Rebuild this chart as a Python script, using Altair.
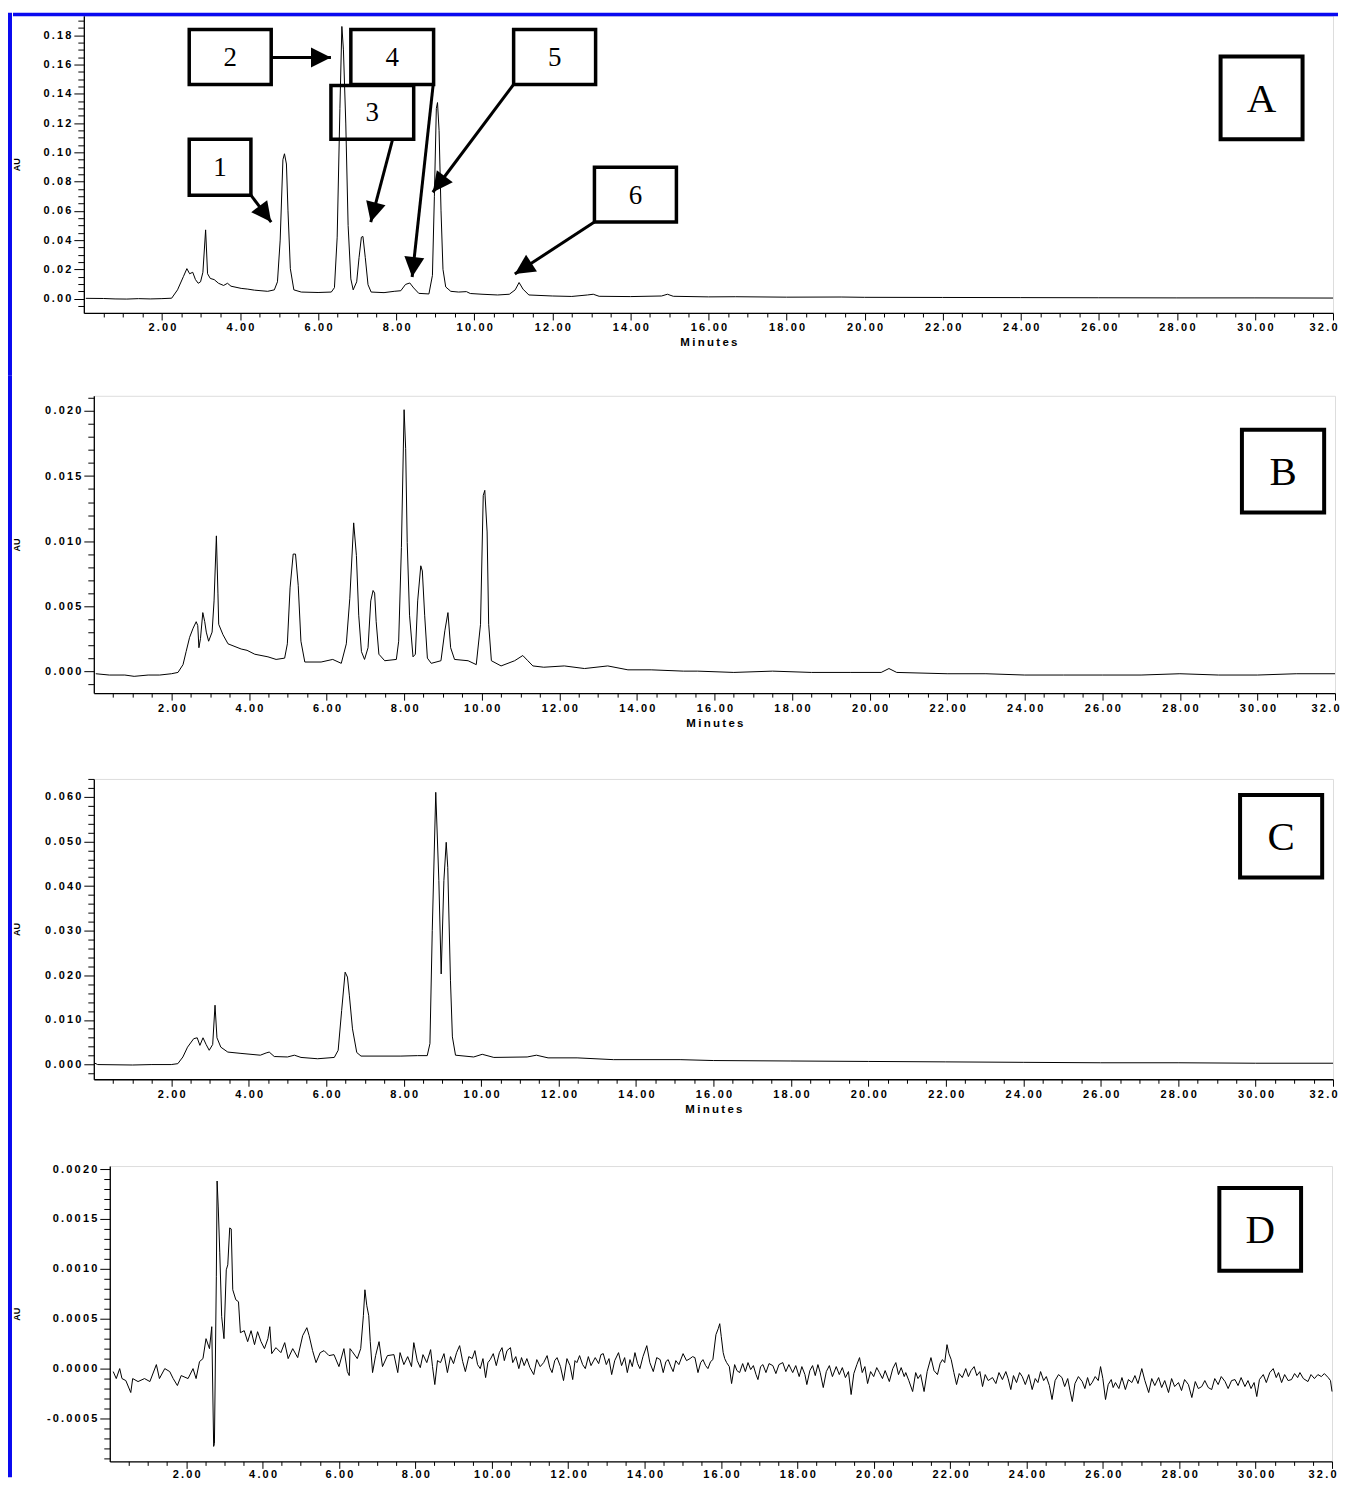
import math
import altair as alt
import pandas as pd

# ---------------- trace data (minutes, AU) ----------------
A_TRACE = [
    (0.05, 0.0002), (0.5, 0.0001), (0.8, -0.0002), (1.1, -0.0003), (1.4, 0.0), (1.7, -0.0002),
    (2.0, 0.0), (2.25, 0.0003), (2.4, 0.006), (2.55, 0.015), (2.64, 0.0205), (2.71, 0.017),
    (2.79, 0.018), (2.86, 0.013), (2.93, 0.0105), (2.99, 0.0115), (3.05, 0.018), (3.12, 0.047),
    (3.17, 0.017), (3.24, 0.0138), (3.34, 0.013), (3.45, 0.0105), (3.58, 0.009), (3.68, 0.0105),
    (3.77, 0.0085), (4.03, 0.007), (4.2, 0.0065), (4.37, 0.0058), (4.71, 0.005), (4.88, 0.006),
    (4.96, 0.0115), (5.03, 0.04), (5.1, 0.095), (5.14, 0.099), (5.19, 0.092), (5.23, 0.06),
    (5.29, 0.0205), (5.38, 0.006), (5.57, 0.0045), (6.0, 0.0042), (6.34, 0.0045), (6.42, 0.0075),
    (6.49, 0.042), (6.56, 0.13), (6.61, 0.186), (6.65, 0.17), (6.71, 0.12), (6.77, 0.05),
    (6.84, 0.0135), (6.9, 0.006), (6.99, 0.0115), (7.05, 0.028), (7.11, 0.042), (7.15, 0.0425),
    (7.21, 0.028), (7.28, 0.0095), (7.36, 0.0045), (7.69, 0.0041), (7.95, 0.005), (8.12, 0.0054),
    (8.24, 0.0097), (8.35, 0.0107), (8.45, 0.0073), (8.58, 0.0036), (8.84, 0.0032), (8.93, 0.0159),
    (8.98, 0.07), (9.03, 0.13), (9.06, 0.134), (9.1, 0.115), (9.15, 0.06), (9.2, 0.02),
    (9.27, 0.008), (9.4, 0.005), (9.6, 0.0045), (9.8, 0.0048), (9.9, 0.0035), (10.2, 0.003),
    (10.6, 0.0025), (10.9, 0.003), (11.05, 0.006), (11.15, 0.011), (11.25, 0.0065), (11.4, 0.0025),
    (12.0, 0.0018), (12.5, 0.0015), (12.9, 0.0025), (13.05, 0.003), (13.2, 0.0016), (14.0, 0.0014),
    (14.8, 0.0018), (14.95, 0.003), (15.1, 0.0016), (16.0, 0.0012), (16.7, 0.0013), (18.0, 0.001),
    (19.4, 0.0011), (20.0, 0.0009), (22.0, 0.0008), (24.0, 0.0007), (26.0, 0.0006), (28.0, 0.0005),
    (30.0, 0.0005), (32.0, 0.0004),
]

B_TRACE = [
    (0.05, -0.0002), (0.4, -0.0003), (0.8, -0.0003), (1.04, -0.0004), (1.4, -0.0003), (1.7, -0.0003),
    (2.0, -0.0002), (2.17, -0.0001), (2.3, 0.0005), (2.38, 0.0015), (2.47, 0.0026), (2.56, 0.0033),
    (2.64, 0.0038), (2.68, 0.0035), (2.71, 0.0018), (2.75, 0.0025), (2.81, 0.0045), (2.86, 0.0038),
    (2.9, 0.0030), (2.96, 0.0023), (3.05, 0.003), (3.1, 0.0054), (3.16, 0.0104), (3.2, 0.006),
    (3.22, 0.0036), (3.33, 0.0028), (3.46, 0.0021), (3.8, 0.0017), (3.95, 0.0016), (4.15, 0.0013),
    (4.49, 0.0011), (4.7, 0.0009), (4.92, 0.001), (4.99, 0.0021), (5.06, 0.0064), (5.14, 0.009),
    (5.2, 0.009), (5.27, 0.0066), (5.34, 0.0023), (5.44, 0.0007), (5.86, 0.0007), (6.16, 0.0009),
    (6.38, 0.0006), (6.51, 0.0021), (6.6, 0.0056), (6.7, 0.0114), (6.77, 0.0089), (6.83, 0.0043),
    (6.9, 0.0015), (6.98, 0.0009), (7.07, 0.0018), (7.14, 0.0054), (7.2, 0.0062), (7.24, 0.006),
    (7.28, 0.0038), (7.35, 0.0013), (7.5, 0.0008), (7.8, 0.0009), (7.86, 0.0023), (7.93, 0.0095),
    (8.0, 0.0201), (8.04, 0.0171), (8.08, 0.0099), (8.14, 0.0043), (8.23, 0.0011), (8.29, 0.0013),
    (8.35, 0.0054), (8.43, 0.0081), (8.47, 0.0077), (8.53, 0.0043), (8.6, 0.001), (8.7, 0.0006),
    (8.95, 0.0008), (9.05, 0.0031), (9.13, 0.0045), (9.2, 0.0018), (9.3, 0.0009), (9.65, 0.0008),
    (9.86, 0.0005), (9.97, 0.0036), (10.04, 0.0135), (10.08, 0.0139), (10.14, 0.0107), (10.18, 0.0036),
    (10.25, 0.0008), (10.5, 0.0004), (10.85, 0.0008), (11.06, 0.0012), (11.19, 0.0008), (11.32, 0.0004),
    (11.6, 0.0003), (12.13, 0.0004), (12.65, 0.0002), (13.25, 0.0004), (13.77, 0.0001), (14.37, 0.0001),
    (15.2, 0.0), (15.57, 0.0), (16.5, -0.0001), (17.5, 0.0), (18.5, -0.0001), (19.5, -0.0001),
    (20.3, -0.0001), (20.5, 0.0002), (20.7, -0.0001), (22.0, -0.0002), (23.0, -0.0002), (24.0, -0.0003),
    (25.0, -0.0003), (26.0, -0.0003), (27.0, -0.0003), (28.0, -0.0002), (29.0, -0.0003), (30.0, -0.0003),
    (31.0, -0.0002), (32.0, -0.0002),
]

C_TRACE = [
    (0.03, 0.0003), (0.1, 0.0), (1.0, -0.0001), (1.5, 0.0), (2.0, 0.0), (2.17, 0.0002),
    (2.3, 0.0017), (2.42, 0.0039), (2.58, 0.0058), (2.67, 0.006), (2.74, 0.0043), (2.82, 0.006),
    (2.9, 0.0045), (2.98, 0.0032), (3.07, 0.0045), (3.13, 0.0133), (3.18, 0.006), (3.28, 0.0039),
    (3.46, 0.0028), (3.8, 0.0025), (4.3, 0.0021), (4.45, 0.0026), (4.53, 0.0028), (4.66, 0.0018),
    (5.0, 0.0017), (5.18, 0.0021), (5.35, 0.0016), (5.78, 0.0013), (6.21, 0.0016), (6.31, 0.0032),
    (6.4, 0.0121), (6.49, 0.0207), (6.55, 0.0196), (6.6, 0.0154), (6.68, 0.008), (6.79, 0.0027),
    (6.9, 0.0019), (7.93, 0.0019), (8.36, 0.002), (8.61, 0.002), (8.68, 0.0047), (8.74, 0.030),
    (8.83, 0.061), (8.91, 0.0412), (8.97, 0.0203), (9.04, 0.0412), (9.1, 0.0498), (9.14, 0.0442),
    (9.21, 0.0189), (9.26, 0.0062), (9.34, 0.0021), (9.81, 0.0017), (10.03, 0.0023), (10.33, 0.0016),
    (11.19, 0.0017), (11.43, 0.0021), (11.73, 0.0015), (12.48, 0.0015), (13.42, 0.0011), (15.14, 0.0011),
    (16.0, 0.0009), (18.0, 0.0008), (20.0, 0.0007), (22.0, 0.0006), (24.0, 0.0005), (26.0, 0.0004),
    (28.0, 0.0004), (30.0, 0.0003), (32.0, 0.0003),
]

D_TRACE = [
    (0.09, -0.00003), (0.17, -0.00010), (0.26, 0.00000), (0.32, -0.00010), (0.42, -0.00012),
    (0.55, -0.00024), (0.60, -0.00010), (0.74, -0.00013), (0.91, -0.00010), (1.05, -0.00013),
    (1.22, 0.00004), (1.30, -0.00010), (1.44, 0.00000), (1.57, -0.00003), (1.66, -0.00010),
    (1.77, -0.00017), (1.87, -0.00007), (2.05, -0.00010), (2.18, 0.00000), (2.26, -0.00010),
    (2.35, 0.00007), (2.44, 0.00010), (2.52, 0.00030), (2.61, 0.00020), (2.67, 0.00042),
    (2.72, -0.00078), (2.74, -0.00075), (2.79, 0.00092), (2.81, 0.00188), (2.84, 0.00162),
    (2.88, 0.00116), (2.93, 0.00052), (2.99, 0.00030), (3.05, 0.00099), (3.09, 0.00104),
    (3.14, 0.00141), (3.18, 0.00140), (3.22, 0.00079), (3.30, 0.00069), (3.37, 0.00067),
    (3.42, 0.00036), (3.52, 0.00038), (3.61, 0.00027), (3.70, 0.00038), (3.79, 0.00024),
    (3.87, 0.00037), (3.96, 0.00027), (4.05, 0.00020), (4.14, 0.00030), (4.19, 0.00042),
    (4.24, 0.00015), (4.35, 0.00021), (4.48, 0.00016), (4.58, 0.00026), (4.67, 0.00010),
    (4.79, 0.00020), (4.92, 0.00011), (5.05, 0.00033), (5.16, 0.00041), (5.22, 0.00033),
    (5.31, 0.00018), (5.40, 0.00006), (5.51, 0.00016), (5.61, 0.00018), (5.74, 0.00013),
    (5.87, 0.00014), (6.00, 0.00002), (6.13, 0.00020), (6.22, -0.00003), (6.27, -0.00007),
    (6.29, 0.00020), (6.35, 0.00017), (6.48, 0.00010), (6.57, 0.00020), (6.64, 0.00053),
    (6.68, 0.00079), (6.73, 0.00063), (6.78, 0.00053), (6.82, 0.00027), (6.88, -0.00004),
    (6.96, 0.00013), (7.05, 0.00027), (7.14, 0.00002), (7.27, 0.00013), (7.44, 0.00014),
    (7.54, -0.00004),
    (7.6, 0.00016), (7.7, 0.00004), (7.8, 0.00012), (7.9, 0.00002), (7.96, 0.00026), (8.05, 0.00008),
    (8.13, 0.00001), (8.2, 0.00014), (8.3, 0.00006), (8.4, 0.00019), (8.45, 0.00002), (8.51, -0.00016),
    (8.58, 0.00008), (8.66, 0.00006), (8.75, 0.00015), (8.84, -0.00004), (8.92, 0.00012), (9.0, 0.00005),
    (9.08, 0.00016), (9.16, 0.00023), (9.24, 0.00007), (9.31, -0.00003), (9.4, 0.00012), (9.49, 0.00010),
    (9.56, 0.00018), (9.63, 0.00004), (9.70, 0.00000), (9.77, 0.00010), (9.84, -0.00009), (9.9, 0.00006),
    (9.96, 0.00009), (10.04, 0.00015), (10.12, 0.00003), (10.2, 0.00016), (10.27, 0.00021), (10.33, 0.00008),
    (10.4, 0.00018), (10.49, 0.00021), (10.55, 0.00006), (10.63, 0.00012), (10.71, 0.00000), (10.78, 0.00011),
    (10.85, 0.00003), (10.92, 0.00010), (11.0, 0.00001), (11.10, -0.00006), (11.18, 0.00009), (11.27, 0.00002),
    (11.36, 0.00006), (11.45, 0.00013), (11.52, 0.00001), (11.58, -0.00004), (11.65, 0.00008), (11.71, 0.00011),
    (11.8, 0.00002), (11.88, -0.00012), (11.97, 0.00010), (12.05, 0.00003), (12.12, -0.00011), (12.18, 0.00008),
    (12.23, 0.00006), (12.3, 0.00013), (12.38, 0.00004), (12.45, 0.00000), (12.53, 0.00012), (12.6, 0.00003),
    (12.71, 0.00011), (12.8, 0.00005), (12.86, 0.00014), (12.92, 0.00015), (13.0, 0.00004), (13.07, 0.00010),
    (13.14, -0.00006), (13.22, 0.00008), (13.32, 0.00016), (13.4, 0.00003), (13.48, 0.00011), (13.55, -0.00004),
    (13.62, 0.00009), (13.68, 0.00002), (13.75, 0.00016), (13.82, 0.00005), (13.88, 0.00000), (13.96, 0.00012),
    (14.06, 0.00023), (14.14, 0.00006), (14.23, -0.00003), (14.32, 0.00011), (14.41, 0.00009), (14.49, -0.00004),
    (14.56, 0.00007), (14.62, 0.00009), (14.69, 0.00002), (14.75, -0.00003), (14.82, 0.00008), (14.9, 0.00004),
    (15.01, 0.00015), (15.1, 0.00008), (15.19, 0.00010), (15.26, 0.00012), (15.32, 0.00011), (15.40, -0.00004),
    (15.47, 0.00006), (15.53, 0.00009), (15.6, 0.00003), (15.66, 0.00000), (15.73, 0.00007), (15.79, 0.00009),
    (15.87, 0.00034), (15.93, 0.00040), (15.97, 0.00045), (16.01, 0.00032), (16.06, 0.00016), (16.1, 0.00010),
    (16.15, 0.00006), (16.22, 0.00002), (16.28, -0.00015), (16.36, 0.00004), (16.42, -0.00002), (16.49, -0.00004),
    (16.57, 0.00005), (16.64, -0.00003), (16.71, 0.00006), (16.78, -0.00001), (16.85, 0.00003), (16.92, -0.00006),
    (16.97, -0.00011), (17.04, 0.00002), (17.10, 0.00004), (17.18, -0.00004), (17.26, 0.00005), (17.36, 0.00003),
    (17.44, -0.00005), (17.52, 0.00004), (17.62, 0.00006), (17.7, -0.00003), (17.78, 0.00004), (17.88, -0.00004),
    (17.96, 0.00003), (18.05, -0.00008), (18.12, 0.00002), (18.2, -0.00006), (18.25, -0.00016), (18.33, -0.00002),
    (18.4, 0.00003), (18.47, -0.00007), (18.54, 0.00004), (18.6, -0.00004), (18.68, -0.00019), (18.76, -0.00003),
    (18.84, 0.00003), (18.92, -0.00008), (19.02, 0.00002), (19.1, -0.00006), (19.18, 0.00001), (19.26, -0.00009),
    (19.34, -0.00003), (19.41, -0.00026), (19.48, -0.00005), (19.56, 0.00004), (19.63, 0.00011), (19.7, -0.00004),
    (19.77, 0.00002), (19.84, -0.00015), (19.92, -0.00003), (20.0, -0.00008), (20.08, 0.00001), (20.15, -0.00004),
    (20.23, -0.00010), (20.3, -0.00002), (20.41, -0.00013), (20.5, 0.00000), (20.58, 0.00006), (20.65, -0.00006),
    (20.72, 0.00001), (20.8, -0.00008), (20.84, -0.00004), (20.92, -0.00012), (21.02, -0.00023), (21.1, -0.00004),
    (21.16, -0.00010), (21.23, -0.00006), (21.32, -0.00023), (21.4, -0.00003), (21.50, 0.00011), (21.58, -0.00002),
    (21.67, -0.00006), (21.74, 0.00005), (21.80, 0.00009), (21.86, 0.00006), (21.92, 0.00024), (21.97, 0.00015),
    (22.03, 0.00009), (22.1, -0.00004), (22.17, -0.00016), (22.24, -0.00005), (22.32, -0.00009), (22.41, 0.00000),
    (22.48, -0.00008), (22.55, -0.00002), (22.63, 0.00002), (22.7, -0.00007), (22.78, -0.00003), (22.85, -0.00018),
    (22.92, -0.00006), (23.0, -0.00012), (23.11, -0.00009), (23.2, -0.00015), (23.28, -0.00004), (23.37, -0.00011),
    (23.46, -0.00003), (23.52, -0.00010), (23.59, -0.00021), (23.66, -0.00007), (23.74, -0.00014), (23.82, -0.00004),
    (23.89, -0.00008), (23.97, -0.00016), (24.06, -0.00006), (24.15, -0.00021), (24.23, -0.00010), (24.3, -0.00014),
    (24.37, -0.00003), (24.45, -0.00012), (24.52, -0.00008), (24.6, -0.00017), (24.67, -0.00031), (24.75, -0.00012),
    (24.84, -0.00006), (24.93, -0.00009), (25.0, -0.00018), (25.08, -0.00010), (25.14, -0.00022), (25.20, -0.00033),
    (25.27, -0.00015), (25.36, -0.00008), (25.46, -0.00013), (25.53, -0.00020), (25.6, -0.00009), (25.66, -0.00017),
    (25.72, -0.00014), (25.8, -0.00008), (25.88, -0.00012), (25.94, 0.00002), (26.0, -0.00010), (26.07, -0.00031),
    (26.14, -0.00016), (26.22, -0.00011), (26.27, -0.00019), (26.33, -0.00014), (26.42, -0.00020), (26.5, -0.00009),
    (26.59, -0.00021), (26.67, -0.00011), (26.76, -0.00014), (26.84, -0.00007), (26.92, -0.00015), (27.02, 0.00000),
    (27.1, -0.00012), (27.20, -0.00024), (27.28, -0.00010), (27.36, -0.00017), (27.46, -0.00009), (27.54, -0.00019),
    (27.62, -0.00012), (27.72, -0.00024), (27.8, -0.00010), (27.88, -0.00018), (27.98, -0.00014), (28.06, -0.00022),
    (28.14, -0.00011), (28.24, -0.00016), (28.33, -0.00029), (28.42, -0.00013), (28.5, -0.00020), (28.59, -0.00018),
    (28.67, -0.00012), (28.76, -0.00019), (28.85, -0.00021), (28.93, -0.00010), (29.02, -0.00016), (29.1, -0.00008),
    (29.20, -0.00013), (29.28, -0.00020), (29.37, -0.00012), (29.46, -0.00011), (29.54, -0.00017), (29.62, -0.00009),
    (29.72, -0.00018), (29.8, -0.00012), (29.88, -0.00020), (29.96, -0.00014), (30.03, -0.00028), (30.1, -0.00011),
    (30.2, -0.00006), (30.28, -0.00014), (30.37, -0.00004), (30.46, 0.00000), (30.54, -0.00009), (30.6, -0.00004),
    (30.68, -0.00014), (30.76, -0.00006), (30.85, -0.00012), (30.94, -0.00011), (31.02, -0.00005), (31.1, -0.00009),
    (31.16, -0.00004), (31.25, -0.00010), (31.37, -0.00013), (31.45, -0.00006), (31.54, -0.00010), (31.63, -0.00006),
    (31.72, -0.00008), (31.8, -0.00005), (31.9, -0.00009), (31.96, -0.00012), (32.0, -0.00023),
]

# ---------------- annotations ----------------
PEAK_LABELS = ["1", "2", "3", "4", "5", "6"]
PEAK_BOX_T = [(2.70, 4.28), (2.70, 4.80), (6.33, 8.45), (6.84, 8.96), (11.01, 13.11), (13.08, 15.18)]
PEAK_BOX_AU = [(0.0707, 0.1089), (0.1464, 0.1839), (0.1089, 0.1457), (0.1464, 0.1839),
               (0.1464, 0.1839), (0.0523, 0.0898)]
ARROW_FROM = [(4.28, 0.0707), (4.80, 0.1648), (7.91, 0.1089), (8.95, 0.1464), (11.01, 0.1464), (13.08, 0.0523)]
ARROW_TO = [(4.80, 0.0523), (6.33, 0.1648), (7.35, 0.0523), (8.41, 0.0148), (8.94, 0.0727), (11.04, 0.0168)]

PANEL_LETTERS = ["A", "B", "C", "D"]
LETTER_BOX_T = [(29.12, 31.22), (29.6, 31.72), (29.6, 31.72), (29.05, 31.19)]
LETTER_BOX_AU = [(0.1089, 0.1655), (0.01219, 0.01856), (0.0419, 0.0604), (0.00098, 0.00181)]

TRACES = [A_TRACE, B_TRACE, C_TRACE, D_TRACE]
Y_DOMAINS = [(-0.0098, 0.1934), (-0.00169, 0.02117), (-0.00329, 0.0640), (-0.00093, 0.00203)]
Y_LABEL_STEP = [0.02, 0.005, 0.01, 0.0005]
Y_MINOR_STEP = [0.005, 0.001, 0.002, 0.0001]
Y_FORMAT = [".2f", ".3f", ".3f", ".4f"]
X_DOMAIN = (0, 32)
X_LABEL_STEP = 2
X_MINOR_STEP = 0.5
X_TITLE = "Minutes"
Y_TITLE = "AU"

# ---------------- layout / style (page pixels) ----------------
LAYOUT = [
    dict(left=83, top=13, width=1252, height=298, seg_top=10, seg_bottom=374, xtitle=True, lpad=2),
    dict(left=93, top=394, width=1244, height=298, seg_top=374, seg_bottom=758, xtitle=True, lpad=2),
    dict(left=93, top=778, width=1242, height=301, seg_top=758, seg_bottom=1146, xtitle=True, lpad=2),
    dict(left=109, top=1166, width=1225, height=296, seg_top=1146, seg_bottom=1478, xtitle=False, lpad=0),
]
EDGE = 8          # page x of the blue frame line
EDGE_W = 4        # its thickness
RIGHT = 1340      # page x where the top frame line ends
FONT = "Liberation Sans"
SERIF = "Liberation Serif"
BLUE = "#0a0af0"
THIN = "\u2009"
ARROW_PATH = "M0,0L0.8,1.6L-0.8,1.6Z"


def spaced(expr):
    return "join(split(replace(%s, '\u2212', '-'), ''), '%s')" % (expr, THIN)


def is_major(step):
    return "abs(datum.value / %s - round(datum.value / %s)) < 0.01" % (step, step)


def ticks(lo, hi, step):
    start = math.ceil(lo / step - 1e-9)
    stop = math.floor(hi / step + 1e-9)
    return [round(k * step, 6) for k in range(start, stop + 1)]


x_values = [v for v in ticks(X_DOMAIN[0], X_DOMAIN[1], X_MINOR_STEP) if v > 0]
LAST = "datum.value > %s" % (X_DOMAIN[1] - 0.1)
x_label = "%s ? substring(format(datum.value, '.2f'), 0, 4) : format(datum.value, '.2f')" % LAST


def x_axis(i):
    kw = dict(
        values=x_values,
        labelExpr="%s ? %s : ''" % (is_major(X_LABEL_STEP), spaced(x_label)),
        tickSize={"condition": {"test": is_major(X_LABEL_STEP), "value": 7}, "value": 4},
        labelAlign={"condition": {"test": LAST, "value": "right"}, "value": "center"},
        labelOffset={"condition": {"test": LAST, "value": 4}, "value": 0},
        titleFont=FONT, titleFontSize=11.5, titleFontWeight="bold",
        titleColor="black", titlePadding=4,
        labelFont=FONT, labelFontSize=11, labelFontWeight="bold", labelColor="black",
        labelPadding=LAYOUT[i]["lpad"], labelFlush=False, labelOverlap=False, labelBound=False,
        domainColor="black", domainWidth=1.3, tickColor="black", tickWidth=1, grid=False,
    )
    kw["title"] = THIN.join(X_TITLE) if LAYOUT[i]["xtitle"] else None
    return alt.Axis(**kw)


def y_axis(i):
    lo, hi = Y_DOMAINS[i]
    step = Y_LABEL_STEP[i]
    return alt.Axis(
        values=ticks(lo, hi, Y_MINOR_STEP[i]),
        labelExpr="%s ? %s : ''" % (is_major(step), spaced("format(datum.value, '%s')" % Y_FORMAT[i])),
        tickSize={"condition": {"test": is_major(step), "value": 10}, "value": 6},
        title=Y_TITLE, titleFont=FONT, titleFontSize=9, titleFontWeight="bold",
        titleColor="black", titleX=21 - LAYOUT[i]["left"],
        labelFont=FONT, labelFontSize=11, labelFontWeight="bold", labelColor="black",
        labelPadding=3, labelOverlap=False, labelFlush=False, labelBound=False,
        domainColor="black", domainWidth=1.3, tickColor="black", tickWidth=1, grid=False,
    )


ONE = pd.DataFrame({"k": [0]})


def frame_strip(i):
    """Blue left frame segment of this row (its own narrow view)."""
    lay = LAYOUT[i]
    T = lay["top"]
    return alt.Chart(ONE).mark_rect(color=BLUE).encode(
        x=alt.value(0), x2=alt.value(EDGE_W),
        y=alt.value(lay["seg_top"] - T), y2=alt.value(lay["seg_bottom"] - T)
    ).properties(width=EDGE_W, height=lay["height"],
                 view=alt.ViewBackground(strokeWidth=0, strokeOpacity=0))


def panel(i):
    lay = LAYOUT[i]
    xs = alt.Scale(domain=list(X_DOMAIN), nice=False, zero=False)
    ys = alt.Scale(domain=list(Y_DOMAINS[i]), nice=False, zero=False)
    xa = x_axis(i)
    ya = y_axis(i)

    def X(f):
        return alt.X(f, type="quantitative", scale=xs, axis=xa)

    def Y(f):
        return alt.Y(f, type="quantitative", scale=ys, axis=ya)

    trace = pd.DataFrame(TRACES[i], columns=["t", "v"])
    layers = [
        alt.Chart(trace).mark_line(color="black", strokeWidth=1).encode(x=X("t"), y=Y("v"))
    ]

    L, T = lay["left"], lay["top"]
    inner = EDGE + EDGE_W
    if i == 0:
        # top blue frame line (starts where the left strip ends)
        layers.append(
            alt.Chart(ONE).mark_rect(color=BLUE).encode(
                x=alt.value(inner - L), x2=alt.value(RIGHT - L),
                y=alt.value(10 - T), y2=alt.value(13.5 - T))
        )
    else:
        # invisible anchor that fixes the panel's left edge next to the strip
        layers.append(
            alt.Chart(ONE).mark_rect(color="white").encode(
                x=alt.value(inner - L), x2=alt.value(inner + 1 - L),
                y=alt.value(0), y2=alt.value(1))
        )

    (t1, t2), (v1, v2) = LETTER_BOX_T[i], LETTER_BOX_AU[i]
    box = pd.DataFrame({"t1": [t1], "t2": [t2], "v1": [v1], "v2": [v2],
                        "tc": [(t1 + t2) / 2], "vc": [(v1 + v2) / 2],
                        "label": [PANEL_LETTERS[i]]})
    layers.append(
        alt.Chart(box).mark_rect(fillOpacity=0, stroke="black", strokeWidth=4).encode(
            x=X("t1"), x2="t2", y=Y("v1"), y2="v2")
    )
    layers.append(
        alt.Chart(box).mark_text(font=SERIF, fontSize=41, color="black", align="center",
                                 baseline="middle", dy=2).encode(x=X("tc"), y=Y("vc"), text="label:N")
    )

    if i == 0:
        pxm = lay["width"] / (X_DOMAIN[1] - X_DOMAIN[0])
        pxv = lay["height"] / (Y_DOMAINS[0][1] - Y_DOMAINS[0][0])
        rows = []
        for k, lab in enumerate(PEAK_LABELS):
            (a1, a2), (b1, b2) = PEAK_BOX_T[k], PEAK_BOX_AU[k]
            (f0, g0), (f1, g1) = ARROW_FROM[k], ARROW_TO[k]
            dx = (f1 - f0) * pxm
            dy = -(g1 - g0) * pxv
            ang = math.degrees(math.atan2(dx, -dy)) % 360
            rows.append(dict(t1=a1, t2=a2, v1=b1, v2=b2, tc=(a1 + a2) / 2, vc=(b1 + b2) / 2,
                             label=lab, s0=f0, w0=g0, s1=f1, w1=g1, ang=ang))
        ann = pd.DataFrame(rows)
        layers.append(
            alt.Chart(ann).mark_rect(fillOpacity=0, stroke="black", strokeWidth=3.5).encode(
                x=X("t1"), x2="t2", y=Y("v1"), y2="v2")
        )
        layers.append(
            alt.Chart(ann).mark_text(font=SERIF, fontSize=27, color="black", align="center",
                                     baseline="middle", dy=1).encode(x=X("tc"), y=Y("vc"), text="label:N")
        )
        layers.append(
            alt.Chart(ann).mark_rule(color="black", strokeWidth=3).encode(
                x=X("s0"), x2="s1", y=Y("w0"), y2="w1")
        )
        layers.append(
            alt.Chart(ann).mark_point(shape=ARROW_PATH, filled=True, size=625, color="black",
                                      opacity=1, strokeWidth=0).encode(
                x=X("s1"), y=Y("w1"), angle=alt.Angle("ang:Q", scale=None))
        )

    return alt.layer(*layers).properties(width=lay["width"], height=lay["height"])


rows = [alt.hconcat(frame_strip(i), panel(i), spacing=0) for i in range(4)]
chart = alt.vconcat(*rows, spacing=0).properties(
    padding={"left": 0, "top": 2, "right": 0, "bottom": 0}
).configure_view(stroke="#444444", strokeWidth=1.8).configure(background="white")

chart.save("out.html", embed_options={"renderer": "svg", "actions": False})
